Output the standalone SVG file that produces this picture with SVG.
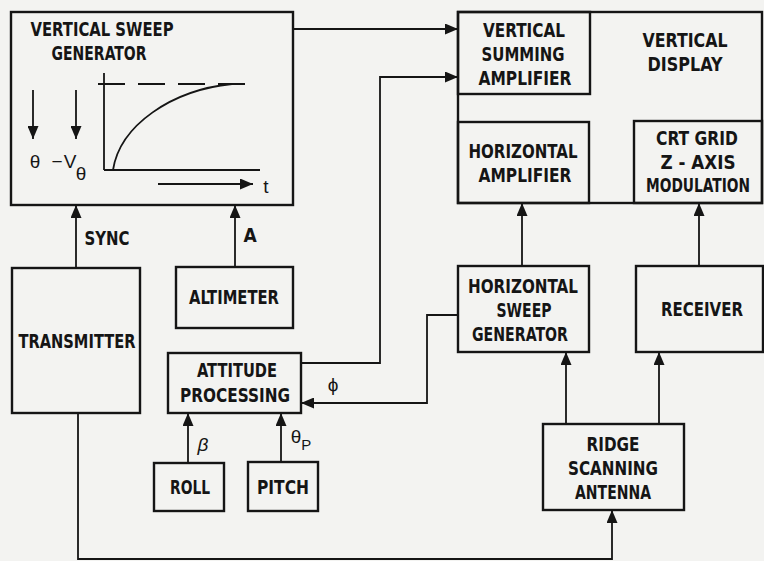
<svg xmlns="http://www.w3.org/2000/svg" width="764" height="561" viewBox="0 0 764 561">
<style>
.box{fill:none;stroke:#151515;stroke-width:2.4}
.ln{fill:none;stroke:#151515;stroke-width:1.8}
.arr{marker-end:url(#ah)}
text{font-family:"DejaVu Sans Condensed","Liberation Sans",sans-serif;font-weight:bold;font-size:19px;fill:#151515;text-anchor:middle}
.sym{font-family:"Liberation Sans","DejaVu Sans",sans-serif;font-weight:normal}
</style>
<defs>
<marker id="ah" markerUnits="userSpaceOnUse" markerWidth="13" markerHeight="11" refX="13" refY="5.5" orient="auto">
<path d="M0,0 L13,5.5 L0,11 z" fill="#151515"/>
</marker>
</defs>
<rect width="764" height="561" fill="#f3f3f1"/>

<g id="vertical-sweep-generator">
<rect class="box" x="11" y="12" width="282" height="193"/>
<text x="102" y="36" font-size="20" textLength="143" lengthAdjust="spacingAndGlyphs">VERTICAL SWEEP</text>
<text x="99" y="60" font-size="20" textLength="95" lengthAdjust="spacingAndGlyphs">GENERATOR</text>
<line class="ln arr" x1="33" y1="90" x2="33" y2="139"/>
<line class="ln arr" x1="76" y1="90" x2="76" y2="139"/>
<text class="sym" x="35" y="168" font-size="16">θ</text>
<text class="sym" x="57" y="168" font-size="17">−</text>
<text class="sym" x="70" y="168" font-size="18">V</text>
<text class="sym" x="81" y="180" font-size="15">θ</text>
<line class="ln" x1="104" y1="73" x2="104" y2="170"/>
<line class="ln" x1="104" y1="170" x2="260" y2="170"/>
<line class="ln" x1="98" y1="84" x2="252" y2="84" stroke-dasharray="27 13"/>
<path class="ln" d="M113,170 C120,125 172,90 232,84"/>
<line class="ln arr" x1="158" y1="184" x2="253" y2="184"/>
<text class="sym" x="266" y="193" font-size="20">t</text>
</g>

<g id="vertical-display">
<rect class="box" x="458" y="12" width="304" height="191"/>
<text x="685" y="47" textLength="85" lengthAdjust="spacingAndGlyphs">VERTICAL</text>
<text x="685" y="71" textLength="75" lengthAdjust="spacingAndGlyphs">DISPLAY</text>
</g>

<g id="vertical-summing-amplifier">
<rect class="box" x="458" y="12" width="132" height="82"/>
<text x="524" y="37" textLength="82" lengthAdjust="spacingAndGlyphs">VERTICAL</text>
<text x="523" y="61" textLength="83" lengthAdjust="spacingAndGlyphs">SUMMING</text>
<text x="525" y="85" textLength="93" lengthAdjust="spacingAndGlyphs">AMPLIFIER</text>
</g>

<g id="horizontal-amplifier">
<rect class="box" x="458" y="122" width="131" height="81"/>
<text x="523" y="158" textLength="109" lengthAdjust="spacingAndGlyphs">HORIZONTAL</text>
<text x="525" y="182" textLength="93" lengthAdjust="spacingAndGlyphs">AMPLIFIER</text>
</g>

<g id="crt-grid">
<rect class="box" x="634" y="121" width="128" height="82"/>
<text x="697" y="145" textLength="82" lengthAdjust="spacingAndGlyphs">CRT GRID</text>
<text x="698" y="169" textLength="75" lengthAdjust="spacingAndGlyphs">Z - AXIS</text>
<text x="698" y="192" font-size="17" textLength="104" lengthAdjust="spacingAndGlyphs">MODULATION</text>
</g>

<g id="transmitter">
<rect class="box" x="12" y="268" width="128" height="145"/>
<text x="77" y="348" textLength="117" lengthAdjust="spacingAndGlyphs">TRANSMITTER</text>
</g>

<g id="altimeter">
<rect class="box" x="176" y="267" width="117" height="61"/>
<text x="234" y="304" textLength="90" lengthAdjust="spacingAndGlyphs">ALTIMETER</text>
</g>

<g id="attitude-processing">
<rect class="box" x="168" y="353" width="133" height="60"/>
<text x="237" y="377" textLength="80" lengthAdjust="spacingAndGlyphs">ATTITUDE</text>
<text x="235" y="402" textLength="110" lengthAdjust="spacingAndGlyphs">PROCESSING</text>
</g>

<g id="roll">
<rect class="box" x="154" y="463" width="70" height="48"/>
<text x="190" y="494" textLength="40" lengthAdjust="spacingAndGlyphs">ROLL</text>
</g>

<g id="pitch">
<rect class="box" x="248" y="462" width="70" height="49"/>
<text x="283" y="494" textLength="52" lengthAdjust="spacingAndGlyphs">PITCH</text>
</g>

<g id="horizontal-sweep-generator">
<rect class="box" x="458" y="266" width="131" height="86"/>
<text x="523" y="293" textLength="110" lengthAdjust="spacingAndGlyphs">HORIZONTAL</text>
<text x="524" y="317" textLength="55" lengthAdjust="spacingAndGlyphs">SWEEP</text>
<text x="520" y="341" textLength="96" lengthAdjust="spacingAndGlyphs">GENERATOR</text>
</g>

<g id="receiver">
<rect class="box" x="636" y="266" width="127" height="86"/>
<text x="702" y="316" textLength="82" lengthAdjust="spacingAndGlyphs">RECEIVER</text>
</g>

<g id="ridge-scanning-antenna">
<rect class="box" x="543" y="424" width="141" height="86"/>
<text x="613" y="451" textLength="53" lengthAdjust="spacingAndGlyphs">RIDGE</text>
<text x="613" y="475" textLength="90" lengthAdjust="spacingAndGlyphs">SCANNING</text>
<text x="613" y="499" textLength="76" lengthAdjust="spacingAndGlyphs">ANTENNA</text>
</g>

<g id="connectors">
<path class="ln arr" d="M293,29 H458"/>
<path class="ln arr" d="M301,363 H380 V77 H458"/>
<path class="ln arr" d="M76,268 V205"/>
<path class="ln arr" d="M235,267 V205"/>
<path class="ln arr" d="M458,315 H427 V403 H301"/>
<path class="ln arr" d="M188,463 V413"/>
<path class="ln arr" d="M281,462 V413"/>
<path class="ln arr" d="M78,413 V559 H612 V510"/>
<path class="ln arr" d="M566,424 V352"/>
<path class="ln arr" d="M659,424 V352"/>
<path class="ln arr" d="M522,266 V203"/>
<path class="ln arr" d="M699,266 V203"/>
<text x="107" y="245" font-size="17" textLength="45" lengthAdjust="spacingAndGlyphs">SYNC</text>
<text x="250" y="242" font-size="18">A</text>
<text class="sym" x="333" y="391" font-size="19">ϕ</text>
<text class="sym" x="203" y="451" font-size="20" font-style="italic">β</text>
<text class="sym" x="301" y="443" font-size="18">θ<tspan font-size="15" dy="7">P</tspan></text>
</g>
</svg>
